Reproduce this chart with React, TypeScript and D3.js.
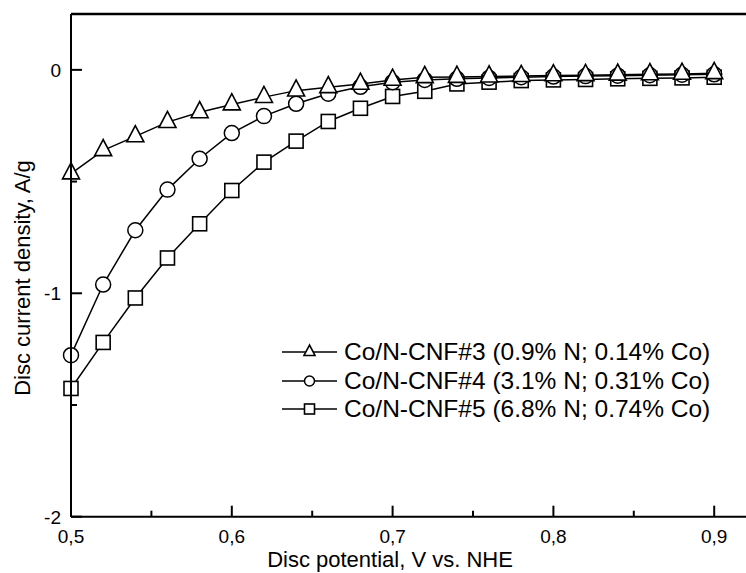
import React from 'react'
import * as d3 from 'd3'

// potential, V vs. NHE
const potentials = [0.5, 0.52, 0.54, 0.56, 0.58, 0.6, 0.62, 0.64, 0.66, 0.68, 0.7, 0.72, 0.74, 0.76, 0.78, 0.8, 0.82, 0.84, 0.86, 0.88, 0.9]

// disc current density, A/g
const cnf3 = [-0.464, -0.36, -0.298, -0.234, -0.19, -0.155, -0.122, -0.093, -0.078, -0.063, -0.045, -0.033, -0.032, -0.03, -0.028, -0.025, -0.024, -0.022, -0.02, -0.018, -0.015]
const cnf4 = [-1.277, -0.961, -0.718, -0.536, -0.398, -0.283, -0.207, -0.152, -0.107, -0.076, -0.055, -0.045, -0.04, -0.036, -0.033, -0.03, -0.028, -0.026, -0.024, -0.022, -0.02]
const cnf5 = [-1.426, -1.22, -1.021, -0.842, -0.689, -0.54, -0.413, -0.319, -0.231, -0.172, -0.119, -0.096, -0.063, -0.055, -0.048, -0.045, -0.043, -0.04, -0.038, -0.036, -0.033]

const seriesNames = [
  'Co/N-CNF#3 (0.9% N; 0.14% Co)',
  'Co/N-CNF#4 (3.1% N; 0.31% Co)',
  'Co/N-CNF#5 (6.8% N; 0.74% Co)',
]

const xMajor = [0.5, 0.6, 0.7, 0.8, 0.9]
const xMinor = [0.55, 0.65, 0.75, 0.85]
const yMajor = [0, -1, -2]
const yMinor = [-0.5, -1.5]

const font = 'Liberation Sans, Arial, sans-serif'

function Marker({ kind, x, y, size }: { kind: string; x: number; y: number; size: number }) {
  if (kind === 'circle') {
    return <circle cx={x} cy={y} r={size / 2} fill="white" stroke="black" strokeWidth={1.5} />
  }
  if (kind === 'square') {
    return <rect x={x - size / 2} y={y - size / 2} width={size} height={size} fill="white" stroke="black" strokeWidth={1.6} />
  }
  const h = size * 0.95
  const w = size
  // triangle centred on its centroid
  const pts = [
    [x, y - (2 * h) / 3],
    [x - w / 2, y + h / 3],
    [x + w / 2, y + h / 3],
  ]
  return <polygon points={pts.map(p => p.join(',')).join(' ')} fill="white" stroke="black" strokeWidth={1.6} />
}

export default function App() {
  const width = 746
  const height = 573
  const left = 71
  const top = 14
  const bottom = 516.7

  const x = d3.scaleLinear().domain([0.5, 0.92]).range([left, left + 0.42 * 1608])
  const y = d3.scaleLinear().domain([0.25, -2]).range([top, bottom])

  const series = [
    { values: cnf3, kind: 'triangle', size: 17 },
    { values: cnf4, kind: 'circle', size: 15 },
    { values: cnf5, kind: 'square', size: 14 },
  ]

  const line = d3.line<number>()
    .x((_, i) => x(potentials[i]))
    .y(d => y(d))

  const legendX = 282
  const legendY = [352, 381, 409]

  return (
    <svg width={width} height={height} style={{ position: 'absolute', left: 0, top: 0, background: 'white' }} fontFamily={font}>
      {/* curves, drawn last-first so triangles sit on top */}
      {[...series].reverse().map((s, k) => (
        <g key={k}>
          <path d={line(s.values) || ''} fill="none" stroke="black" strokeWidth={1.5} />
          {s.values.map((v, i) => (
            <Marker key={i} kind={s.kind} x={x(potentials[i])} y={y(v)} size={s.size} />
          ))}
        </g>
      ))}

      {/* frame */}
      <line x1={left} x2={width} y1={top} y2={top} stroke="black" strokeWidth={2.5} />
      <line x1={left} x2={left} y1={top} y2={bottom} stroke="black" strokeWidth={2} />
      <line x1={left} x2={width} y1={bottom} y2={bottom} stroke="black" strokeWidth={2} />

      {/* x ticks */}
      {xMajor.map(t => (
        <g key={t}>
          <line x1={x(t)} x2={x(t)} y1={bottom} y2={bottom - 11} stroke="black" strokeWidth={2} />
          <text x={x(t)} y={bottom + 26} fontSize={19} textAnchor="middle">{d3.format('.1f')(t).replace('.', ',')}</text>
        </g>
      ))}
      {xMinor.map(t => (
        <line key={t} x1={x(t)} x2={x(t)} y1={bottom} y2={bottom - 6} stroke="black" strokeWidth={2} />
      ))}

      {/* y ticks */}
      {yMajor.map(t => (
        <g key={t}>
          <line x1={left} x2={left + 11} y1={y(t)} y2={y(t)} stroke="black" strokeWidth={2} />
          <text x={left - 10} y={y(t) + 7} fontSize={19} textAnchor="end">{t}</text>
        </g>
      ))}
      {yMinor.map(t => (
        <line key={t} x1={left} x2={left + 6} y1={y(t)} y2={y(t)} stroke="black" strokeWidth={2} />
      ))}

      {/* axis titles */}
      <text x={390} y={567} fontSize={22} textAnchor="middle">Disc potential, V vs. NHE</text>
      <text transform={`translate(30,278) rotate(-90)`} fontSize={22} textAnchor="middle">Disc current density, A/g</text>

      {/* legend */}
      {series.map((s, k) => (
        <g key={k}>
          <line x1={legendX} x2={legendX + 55} y1={legendY[k]} y2={legendY[k]} stroke="black" strokeWidth={1.5} />
          <Marker kind={s.kind} x={legendX + 27.5} y={legendY[k]} size={s.kind === 'triangle' ? 11 : 10} />
          <text x={legendX + 62} y={legendY[k] + 8} fontSize={24.5}>{seriesNames[k]}</text>
        </g>
      ))}
    </svg>
  )
}
